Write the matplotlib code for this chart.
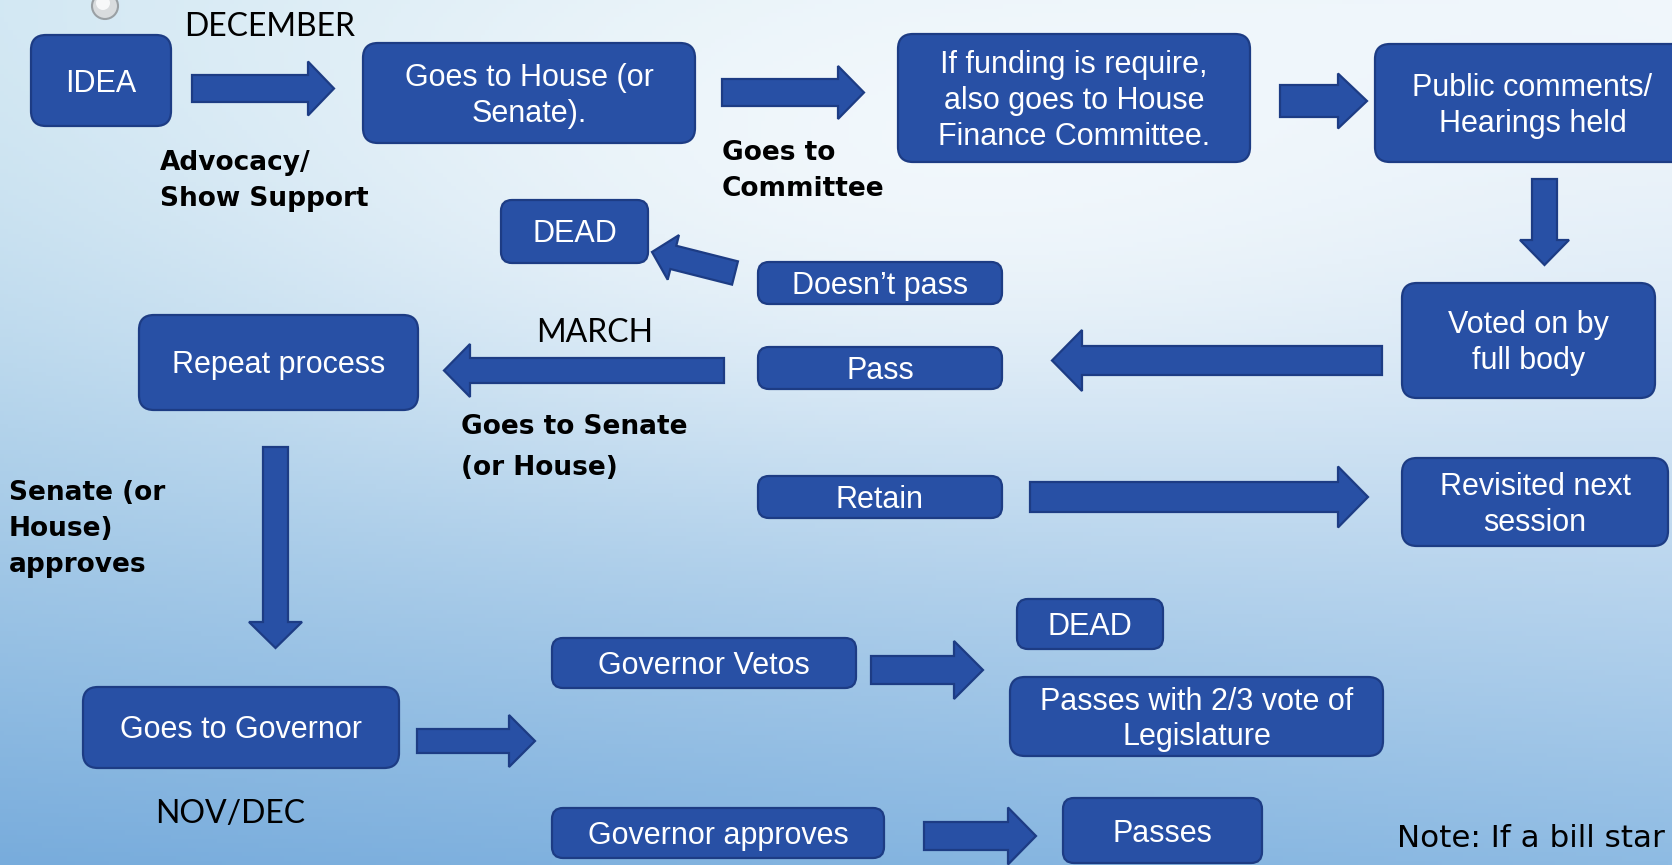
import numpy as np
import matplotlib.pyplot as plt
from matplotlib.patches import FancyBboxPatch, FancyArrow, Circle
from matplotlib.colors import to_rgb

# box texts of the flow chart
box_labels = [
    "IDEA",
    "Goes to House (or\nSenate).",
    "If funding is require,\nalso goes to House\nFinance Committee.",
    "Public comments/\nHearings held",
    "Voted on by\nfull body",
    "DEAD",
    "Doesn\u2019t pass",
    "Pass",
    "Repeat process",
    "Retain",
    "Revisited next\nsession",
    "Goes to Governor",
    "Governor Vetos",
    "Governor approves",
    "DEAD",
    "Passes with 2/3 vote of\nLegislature",
    "Passes",
]
# layout of the boxes (x0, y0, x1, y1) in pixels
box_layout = [
    (31, 35, 171, 126),
    (363, 43, 695, 143),
    (898, 34, 1250, 162),
    (1375, 44, 1690, 162),
    (1402, 283, 1655, 398),
    (501, 200, 648, 263),
    (758, 262, 1002, 304),
    (758, 347, 1002, 389),
    (139, 315, 418, 410),
    (758, 476, 1002, 518),
    (1402, 458, 1668, 546),
    (83, 687, 399, 768),
    (552, 638, 856, 688),
    (552, 808, 884, 858),
    (1017, 599, 1163, 649),
    (1010, 677, 1383, 756),
    (1063, 798, 1262, 863),
]

# block arrows: x, y, dx, dy, shaft width, head width, head length
arrows = [
    (192, 88.5, 142, 0, 27, 54, 26),
    (722, 92.5, 142, 0, 27, 53, 26),
    (1280, 101, 87, 0, 32, 55, 29),
    (1544.5, 179, 0, 86, 25, 49, 25),
    (1382, 360.5, -330, 0, 29, 61, 30),
    (735, 273, -83, -21, 24, 46, 22),
    (724, 370.5, -280, 0, 25, 53, 26),
    (275.5, 447, 0, 201, 25, 53, 26),
    (1030, 497, 338, 0, 30, 61, 30),
    (417, 741, 118, 0, 24, 52, 26),
    (871, 670, 112, 0, 28, 58, 29),
    (924, 836, 112, 0, 28, 57, 28),
]

# bold side notes: text, left x, first baseline, line step
bold_notes = [
    ("Advocacy/\nShow Support", 160, 170, 36),
    ("Goes to\nCommittee", 722, 160, 36),
    ("Goes to Senate\n(or House)", 461, 434, 41),
    ("Senate (or\nHouse)\napproves", 9, 500, 36),
]
# month labels: text, x, baseline
month_notes = [
    ("DECEMBER", 270, 36),
    ("MARCH", 595, 342),
    ("NOV/DEC", 230, 823),
]
note_text = "Note: If a bill star"

W, H = 1672, 865
fig = plt.figure(figsize=(W / 100, H / 100), dpi=100)
ax = fig.add_axes([0, 0, 1, 1])
ax.set_xlim(0, W)
ax.set_ylim(H, 0)
ax.axis("off")

# background gradient
nx, ny = 400, 200
gx, gy = np.meshgrid(np.linspace(0, 1, nx), np.linspace(0, 1, ny))
tl, tr = np.array(to_rgb("#cfe6f2")), np.array(to_rgb("#eef5fb"))
bl, br = np.array(to_rgb("#78acdc")), np.array(to_rgb("#8ebbe3"))
ty = gy[..., None] ** 1.4
tx = gx[..., None]
bg = (1 - ty) * ((1 - tx) * tl + tx * tr) + ty * ((1 - tx) * bl + tx * br)
glow = 0.65 * np.exp(-((gx - 0.55) ** 2 / 0.18 + (gy - 0.2) ** 2 / 0.1))
bg = bg + (1 - bg) * glow[..., None]
ax.imshow(bg, extent=[0, W, H, 0], aspect="auto", zorder=0)

# small bead at top left
ax.add_patch(Circle((105, 6), 13, facecolor="#d9dcde", edgecolor="#9aa0a4", lw=1.5, zorder=2))
ax.add_patch(Circle((103, 3), 7, facecolor="#f7f8f9", edgecolor="none", zorder=2))

fill = "#2850a5"
edge = "#1d3c84"

for label, (x0, y0, x1, y1) in zip(box_labels, box_layout):
    r = 15 if (y1 - y0) > 70 else 11
    ax.add_patch(FancyBboxPatch((x0, y0), x1 - x0, y1 - y0,
                                boxstyle=f"round,pad=0,rounding_size={r}",
                                facecolor=fill, edgecolor=edge, lw=1.6, zorder=3))
    lines = label.split("\n")
    cx = (x0 + x1) / 2
    cy = (y0 + y1) / 2
    step = 36
    for i, ln in enumerate(lines):
        base = cy + (i - (len(lines) - 1) / 2) * step + 11
        ax.text(cx, base, ln, color="white", fontsize=22, family="Liberation Sans",
                ha="center", va="baseline", zorder=4)

for x, y, dx, dy, w, hw, hl in arrows:
    ax.add_patch(FancyArrow(x, y, dx, dy, width=w, head_width=hw, head_length=hl,
                            length_includes_head=True, facecolor=fill,
                            edgecolor=edge, lw=1.6, zorder=3))

for txt, x, y, step in bold_notes:
    for i, ln in enumerate(txt.split("\n")):
        ax.text(x, y + i * step, ln, fontsize=19, fontweight="bold", family="DejaVu Sans",
                color="black", ha="left", va="baseline", zorder=4)

for txt, x, y in month_notes:
    ax.text(x, y, txt, fontsize=23, family="Lato", color="black",
            ha="center", va="baseline", zorder=4)

ax.text(1397, 847, note_text, fontsize=22.3, family="DejaVu Sans", color="black",
        ha="left", va="baseline", zorder=4)

fig.savefig("out.png", dpi=100)
